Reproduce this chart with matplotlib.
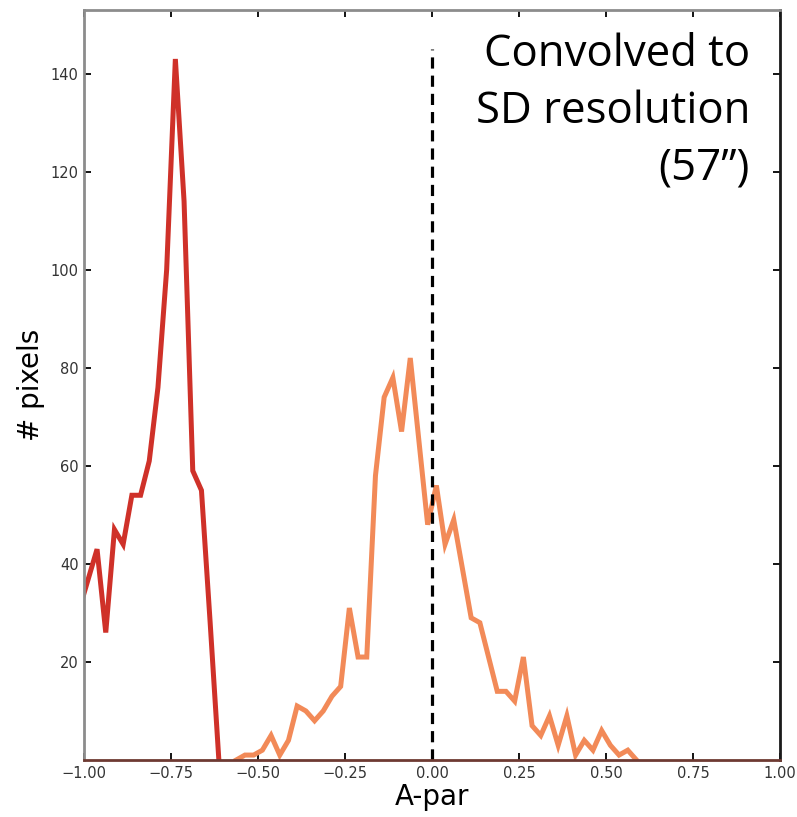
import matplotlib
matplotlib.use('Agg')
import matplotlib.pyplot as plt
import numpy as np

# bin centres (width 0.025) and pixel counts
red_x = [-1.0125, -0.9875, -0.9625, -0.9375, -0.9125, -0.8875, -0.8625,
         -0.8375, -0.8125, -0.7875, -0.7625, -0.7375, -0.7125, -0.6875,
         -0.6625, -0.6375, -0.6125]
red_y = [31, 37, 43, 26, 47, 44, 54,
         54, 61, 76, 100, 143, 114, 59,
         55, 28, 0]

orange_x = [-0.5625, -0.5375, -0.5125, -0.4875, -0.4625, -0.4375,
            -0.4125, -0.3875, -0.3625, -0.3375, -0.3125, -0.2875, -0.2625,
            -0.2375, -0.2125, -0.1875, -0.1625, -0.1375, -0.1125, -0.0875,
            -0.0625, -0.0375, -0.0125, 0.0125, 0.0375, 0.0625, 0.0875,
            0.1125, 0.1375, 0.1625, 0.1875, 0.2125, 0.2375, 0.2625,
            0.2875, 0.3125, 0.3375, 0.3625, 0.3875, 0.4125, 0.4375,
            0.4625, 0.4875, 0.5125, 0.5375, 0.5625, 0.5875]
orange_y = [0, 1, 1, 2, 5, 1,
            4, 11, 10, 8, 10, 13, 15,
            31, 21, 21, 58, 74, 78, 67,
            82, 65, 48, 56, 44, 49, 39,
            29, 28, 21, 14, 14, 12, 21,
            7, 5, 9, 3, 9, 1, 4,
            2, 6, 3, 1, 2, 0]

xticks = [-1.0, -0.75, -0.5, -0.25, 0.0, 0.25, 0.5, 0.75, 1.0]
yticks = [20, 40, 60, 80, 100, 120, 140]
dash_top = 145

fig = plt.figure(figsize=(7.97, 8.17), dpi=100)
ax = fig.add_axes([0.1054, 0.0698, 0.8733, 0.918])

ax.plot(orange_x, orange_y, color='#f28a58', lw=3.6, solid_joinstyle='miter')
ax.plot(red_x, red_y, color='#cf3129', lw=3.6, solid_joinstyle='miter')
ax.vlines(0, 0, dash_top, colors='black', linestyles=(0, (3.5, 2.2)), lw=2.3)

ax.set_xlim(-1, 1)
ax.set_ylim(0, 153)
ax.set_xticks(xticks)
ax.set_xticklabels([f'{t:.2f}'.replace('-', '\u2212') for t in xticks])
ax.set_yticks(yticks)

ax.tick_params(direction='in', length=5, width=1.3, top=True, right=True,
               labelsize=10.5, labelcolor='#333333', pad=4)
ax.spines['left'].set_color('#8c8c8c')
ax.spines['top'].set_color('#8c8c8c')
ax.spines['right'].set_color('#1a1a1a')
ax.spines['bottom'].set_color('#6e3a32')
for s in ax.spines.values():
    s.set_linewidth(2.0)

ax.set_xlabel('A-par', fontsize=20, labelpad=2)
ax.set_ylabel('# pixels', fontsize=20, labelpad=4)

ax.text(0.957, 0.97, 'Convolved to\nSD resolution\n(57\u201d)',
        transform=ax.transAxes, ha='right', va='top', fontsize=31.5,
        family=['Open Sans', 'DejaVu Sans'], linespacing=1.36)

fig.savefig('out.png', dpi=100)
